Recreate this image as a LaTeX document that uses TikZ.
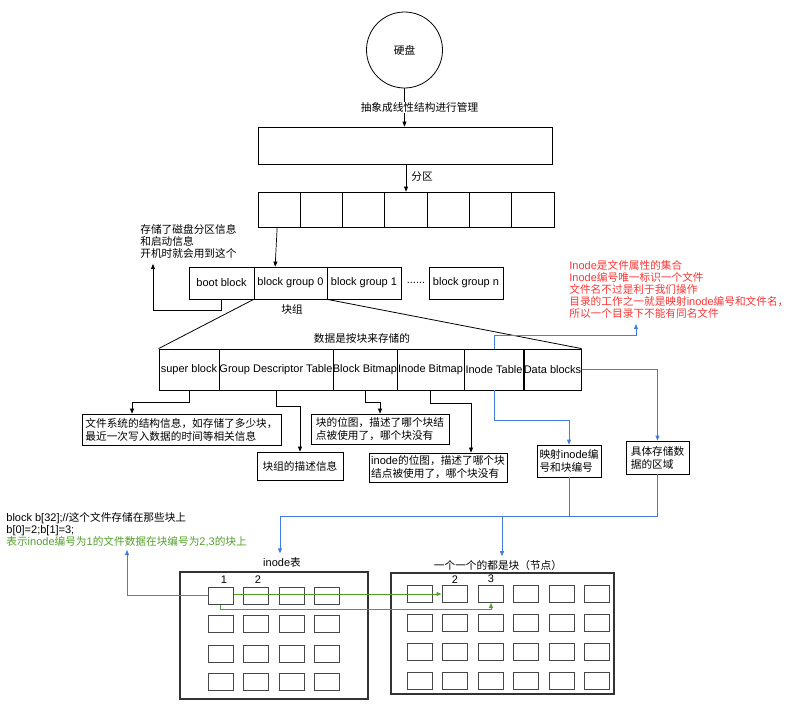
\documentclass[tikz,border=0pt]{standalone}
\usepackage{fontspec}
\setmainfont{Liberation Sans}
\newfontfamily\latinf{Liberation Sans}
\newfontfamily\cjk[Scale=0.97]{Noto Sans CJK SC}
\usetikzlibrary{arrows.meta}
\XeTeXinterchartokenstate=1
\chardef\cjkcls=7
\newcount\cjkcnt
\def\setcjkrange#1#2{\cjkcnt=#1\relax\loop\XeTeXcharclass\cjkcnt=\cjkcls\advance\cjkcnt by 1\relax\ifnum\cjkcnt<#2\repeat}
\setcjkrange{"4E00}{"A000}
\setcjkrange{"3000}{"3040}
\setcjkrange{"FF00}{"FFF0}
\XeTeXinterchartoks 0 \cjkcls={\cjk}
\XeTeXinterchartoks 4095 \cjkcls={\cjk}
\XeTeXinterchartoks 255 \cjkcls={\cjk}
\XeTeXinterchartoks \cjkcls 0={\latinf}
\XeTeXinterchartoks 4095 0={\latinf}
\XeTeXinterchartoks 255 0={\latinf}
\newcommand\myfs{\fontsize{11}{12}\selectfont}
\definecolor{lblue}{RGB}{66,126,224}
\definecolor{lgreen}{RGB}{80,160,40}
\definecolor{lred}{RGB}{255,51,51}
\definecolor{gridc}{RGB}{70,70,70}
\tikzset{
  box/.style={draw, line width=0.8pt, inner sep=1pt},
  tbl/.style={draw, line width=0.8pt, inner xsep=0pt, inner ysep=1pt, minimum height=41},
  desc/.style={draw, line width=0.8pt, inner sep=1pt, align=left, font=\fontsize{11}{13}\selectfont},
  cell/.style={draw=gridc, line width=1pt, minimum width=25, minimum height=17, inner sep=0pt},
  frame/.style={draw=black!80, line width=1.1pt},
  arr/.style={-{Triangle[length=5pt,width=4pt]}, line width=0.7pt},
  barr/.style={arr, draw=lblue, line width=0.8pt},
  garr/.style={arr, draw=lgreen, line width=1pt},
}
\begin{document}
\begin{tikzpicture}[x=1pt,y=-1pt, every node/.style={font=\myfs}, line width=0.8pt]
\useasboundingbox (0,0) rectangle (790,716);

% disk and linear structure
\node[circle, draw, minimum size=76, inner sep=0pt] (disk) at (404.5,50) {硬盘};
\node[box, minimum width=294, minimum height=37] (lin) at (405,145.5) {};
\foreach \i in {1,...,7}
  \node[box, minimum width=42.3, minimum height=35] (p\i) at ({258+42.29*(\i-0.5)},209.5) {};
\draw[arr] (disk.south) -- (disk.south |- lin.north)
  node[pos=0.5, fill=white, inner sep=1pt, xshift=15] (lbl1) {抽象成线性结构进行管理};
\draw[arr] (lin.south -| p4.north) -- (p4.north)
  node[pos=0.45, anchor=west, inner sep=1pt, xshift=4] (lbl2) {分区};

% block groups
\node[box, minimum width=65, minimum height=32] (boot) at (221.5,283) {boot block};
\node[box, minimum width=73, minimum height=32] (bg0) at (290.5,283) {block group 0};
\node[box, minimum width=74, minimum height=32] (bg1) at (364,283) {block group 1};
\node (dots) at (416,283) {......};
\node[box, minimum width=74, minimum height=32] (bgn) at (466,283) {block group n};
\draw[arr] ([xshift=-2]p1.south) -- ([xshift=-4]p1.south |- bg0.north);
\node (kz) at (292,309) {块组};

\node[anchor=west, align=left, inner sep=0pt] (boottxt) at (140,241.5) {存储了磁盘分区信息\\和启动信息\\开机时就会用到这个};
\coordinate (btend) at (153,264);
\draw[arr] (boot.south) -- ++(0,11) -| (btend);

% group structure
\node (datatxt) at (362,338) {数据是按块来存储的};
\node[tbl, minimum width=60] (sb) at (189,369.5) {super block};
\node[tbl, minimum width=114] (gdt) at (276,369.5) {Group Descriptor Table};
\node[tbl, minimum width=64] (bbm) at (365,369.5) {Block Bitmap};
\node[tbl, minimum width=67] (ibm) at (430.5,369.5) {Inode Bitmap};
\node[tbl, minimum width=60] (itab) at (494,369.5) {Inode Table};
\node[tbl, minimum width=57] (dblk) at (552.5,369.5) {Data blocks};
\draw (bg0.south west) -- (sb.north west);
\draw (bg0.south east) -- (dblk.north east);

% descriptions
\node[desc, minimum width=199, minimum height=31] (d1) at (181.5,429.5) {文件系统的结构信息，如存储了多少块，\\最近一次写入数据的时间等相关信息};
\node[desc, minimum width=86, minimum height=28] (d2) at (300,466) {块组的描述信息};
\node[desc, minimum width=138, minimum height=30] (d3) at (380,429) {块的位图，描述了哪个块结\\点被使用了，哪个块没有};
\node[desc, minimum width=138, minimum height=29] (d4) at (438,467.5) {inode的位图，描述了哪个块\\结点被使用了，哪个块没有};
\node[desc, minimum width=64, minimum height=32] (d5) at (569,461) {映射inode编\\号和块编号};
\node[desc, minimum width=63, minimum height=33] (d6) at (657.5,457.5) {具体存储数\\据的区域};

\draw[arr] (sb.south) -- ++(0,12) -| ([xshift=-49.5]d1.north);
\draw[arr] (gdt.south) -- ++(0,16) -| (d2.north);
\draw[arr] (bbm.south) -- ++(0,12) -| (d3.north);
\draw[arr] (ibm.south) -- ++(0,13) -| ([xshift=33]d4.north);
\draw[barr] (itab.south) -- ++(0,30) -| (d5.north);
\draw[barr] (dblk.east) -| (d6.north);

% red note
\node[anchor=west, align=left, text=lred, inner sep=0pt] (redtxt) at (569,289.5) {Inode是文件属性的集合\\Inode编号唯一标识一个文件\\文件名不过是利于我们操作\\目录的工作之一就是映射inode编号和文件名，\\所以一个目录下不能有同名文件};
\coordinate (redend) at (636,324);
\draw[barr] (itab.north) -- ++(0,-13) -| (redend);

% bottom-left code text
\node[anchor=west, align=left, inner sep=0pt] (code) at (6,530) {block b[32];//这个文件存储在那些块上\\b[0]=2;b[1]=3;\\\textcolor{lgreen}{表示inode编号为1的文件数据在块编号为2,3的块上}};
\coordinate (codeend) at (127,550);

% inode table
\node (ilbl) at (282,562) {inode表};
\draw[frame] (180,572) rectangle (368,699);
\foreach \c/\x in {1/220.5,2/255.5,3/291.5,4/327}
  \foreach \r/\y in {1/595.5,2/624,3/653.5,4/681.5}
    \node[cell] (i\r\c) at (\x,\y) {};
\node (n1) at (224,580) {1};
\node (n2) at (258,580) {2};

% blocks
\node (blbl) at (498,565) {一个一个的都是块（节点）};
\draw[frame] (391,573) rectangle (614,694);
\foreach \c/\x in {1/419.5,2/454.5,3/491,4/526,5/562,6/597}
  \foreach \r/\y in {1/594,2/622.5,3/652,4/680.5}
    \node[cell] (b\r\c) at (\x,\y) {};
\node (n3) at (455,580) {2};
\node (n4) at (491,579) {3};

% links to the tables
\draw[barr] (d5.south) -- ++(0,39) -| ([xshift=-2]ilbl.north);
\draw[barr] (d6.south) -- ++(0,42) -| ([xshift=4]blbl.north);
\draw[barr] (i11.west) -| (codeend);
\draw[garr] (i11.east |- b12.west) -- (b12.west);
\draw[garr] (i11.south) -- ++(0,5) -| (b13.south);
\end{tikzpicture}
\end{document}
